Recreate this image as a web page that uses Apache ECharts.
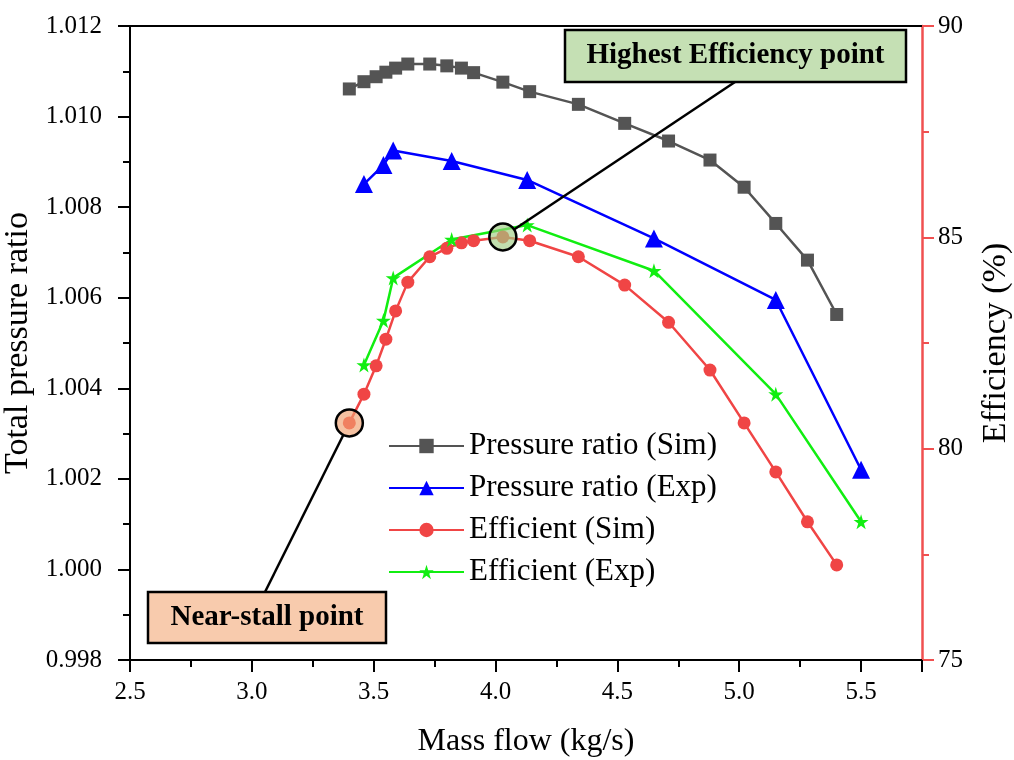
<!DOCTYPE html>
<html><head><meta charset="utf-8">
<script src="https://cdn.jsdelivr.net/npm/echarts@6/dist/echarts.min.js"></script>
<style>html,body{margin:0;padding:0;background:#fff}#c{width:1014px;height:760px}</style>
</head><body><div id="c"></div>
<script>
// ---- data ----
const simFlow = [3.40,3.46,3.51,3.55,3.59,3.64,3.73,3.80,3.86,3.91,4.03,4.14,4.34,4.53,4.71,4.88,5.02,5.15,5.28,5.40];
const prSim   = [1.01061,1.01077,1.01088,1.01098,1.01107,1.01116,1.01116,1.01112,1.01107,1.01097,1.01076,1.01055,1.01027,1.00985,1.00946,1.00904,1.00844,1.00764,1.00683,1.00563];
const effSim  = [80.61,81.29,81.96,82.59,83.26,83.94,84.54,84.74,84.87,84.92,85.01,84.92,84.54,83.87,82.99,81.86,80.61,79.45,78.27,77.25];
const expFlow = [3.46,3.54,3.58,3.82,4.13,4.65,5.15,5.50];
const prExp   = [1.00851,1.00893,1.00925,1.00902,1.00860,1.00731,1.00595,1.00220];
const effExp  = [81.98,83.03,84.04,84.95,85.29,84.21,81.29,78.27];
const seriesNames = ['Pressure ratio (Sim)','Pressure ratio (Exp)','Efficient (Sim)','Efficient (Exp)'];
const nearStallIdx = 0;
const highestIdx = 10;
const noteHighest = 'Highest Efficiency point';
const noteStall = 'Near-stall point';

const FONT = '"Liberation Serif","Times New Roman",serif';
const STAR = 'path://M50 0 L61.17 34.63 L97.55 34.55 L68.07 55.87 L79.39 90.45 L50 69 L20.61 90.45 L31.93 55.87 L2.45 34.55 L38.83 34.63 Z';
const pair = (xs, ys) => xs.map((x, i) => [x, ys[i]]);

const chart = echarts.init(document.getElementById('c'));
const axisTxt = {color:'#000', fontFamily:FONT, fontSize:25};
chart.setOption({
  animation:false,
  backgroundColor:'#fff',
  grid:{left:130, right:92, top:26, bottom:100, containLabel:false, outerBoundsMode:'none'},
  legend:{
    orient:'vertical', left:383, top:425, itemWidth:75, itemHeight:18, itemGap:10,
    textStyle:{color:'#000', fontFamily:FONT, fontSize:31, lineHeight:32},
    data:seriesNames
  },
  xAxis:[{
    type:'value', min:2.5, max:5.75, interval:0.5, position:'bottom',
    name:'Mass flow (kg/s)', nameLocation:'middle', nameGap:66,
    nameTextStyle:{color:'#000', fontFamily:FONT, fontSize:32},
    axisLine:{show:true, lineStyle:{color:'#000', width:2}},
    axisTick:{show:true, length:12, lineStyle:{color:'#000', width:2}},
    minorTick:{show:true, splitNumber:2, length:7, lineStyle:{color:'#000', width:2}},
    splitLine:{show:false},
    axisLabel:{...axisTxt, margin:20, formatter:v => (Math.abs(v*2 - Math.round(v*2)) < 1e-6 ? v.toFixed(1) : '')}
  },{
    type:'value', min:2.5, max:5.75, position:'top',
    axisLine:{show:true, lineStyle:{color:'#000', width:2}},
    axisTick:{show:false}, axisLabel:{show:false}, splitLine:{show:false}
  }],
  yAxis:[{
    type:'value', min:0.998, max:1.012, interval:0.002, position:'left',
    name:'Total pressure ratio', nameLocation:'middle', nameGap:84, nameRotate:90,
    nameTextStyle:{color:'#000', fontFamily:FONT, fontSize:34},
    axisLine:{show:true, lineStyle:{color:'#000', width:2}},
    axisTick:{show:true, length:12, lineStyle:{color:'#000', width:2}},
    minorTick:{show:true, splitNumber:2, length:7, lineStyle:{color:'#000', width:2}},
    splitLine:{show:false},
    axisLabel:{...axisTxt, margin:28, formatter:v => v.toFixed(3)}
  },{
    type:'value', min:75, max:90, interval:5, position:'right',
    name:'Efficiency (%)', nameLocation:'middle', nameGap:57, nameRotate:90,
    nameTextStyle:{color:'#000', fontFamily:FONT, fontSize:34},
    axisLine:{show:true, lineStyle:{color:'#f05050', width:2.5}},
    axisTick:{show:true, length:12, lineStyle:{color:'#f05050', width:2}},
    minorTick:{show:true, splitNumber:2, length:7, lineStyle:{color:'#f05050', width:2}},
    splitLine:{show:false},
    axisLabel:{...axisTxt, margin:16, formatter:v => String(Math.round(v))}
  }],
  series:[
    {name:seriesNames[0], type:'line', xAxisIndex:0, yAxisIndex:0, data:pair(simFlow, prSim),
     symbol:'rect', symbolSize:13, color:'#545454', lineStyle:{width:2.5, color:'#545454'}, itemStyle:{color:'#545454'}, z:3},
    {name:seriesNames[1], type:'line', xAxisIndex:0, yAxisIndex:0, data:pair(expFlow, prExp),
     symbol:'triangle', symbolSize:18, color:'#0000ff', lineStyle:{width:2.5, color:'#0000ff'}, itemStyle:{color:'#0000ff'}, z:3},
    {name:seriesNames[2], type:'line', xAxisIndex:0, yAxisIndex:1, data:pair(simFlow, effSim),
     symbol:'circle', symbolSize:13, color:'#f04545', lineStyle:{width:2.5, color:'#f04545'}, itemStyle:{color:'#f04545'}, z:3,
     markPoint:{
       symbol:'circle', symbolSize:27, label:{show:false}, silent:true, animation:false,
       data:[
         {coord:[simFlow[nearStallIdx], effSim[nearStallIdx]], itemStyle:{color:'rgba(240,160,110,0.65)', borderColor:'#000', borderWidth:2.5}},
         {coord:[simFlow[highestIdx], effSim[highestIdx]], itemStyle:{color:'rgba(160,205,130,0.65)', borderColor:'#000', borderWidth:2.5}}
       ]
     }},
    {name:seriesNames[3], type:'line', xAxisIndex:0, yAxisIndex:1, data:pair(expFlow, effExp),
     symbol:STAR, symbolSize:15, color:'#11ee11', lineStyle:{width:2.5, color:'#11ee11'}, itemStyle:{color:'#11ee11'}, z:3}
  ]
});

// annotation leader lines and boxes
function leader(idx, tx, ty){
  const p = chart.convertToPixel({seriesIndex:2}, [simFlow[idx], effSim[idx]]);
  const dx = tx - p[0], dy = ty - p[1], d = Math.hypot(dx, dy), r = 13.5;
  return {type:'line', z:10, shape:{x1:p[0]+dx/d*r, y1:p[1]+dy/d*r, x2:tx, y2:ty}, style:{stroke:'#000', lineWidth:2.5}};
}
function box(x, y, w, h, fill, txt){
  return {type:'group', z:11, children:[
    {type:'rect', shape:{x:x, y:y, width:w, height:h}, style:{fill:fill, stroke:'#000', lineWidth:2.5}},
    {type:'text', x:x+w/2, y:y+h/2, style:{text:txt, fill:'#000', font:'bold 29px '+FONT, align:'center', verticalAlign:'middle'}}
  ]};
}
chart.setOption({graphic:[
  leader(highestIdx, 735, 82),
  leader(nearStallIdx, 265, 592),
  box(565, 30, 341, 52, '#c5e0b4', noteHighest),
  box(148, 592, 238, 51, '#f8cbad', noteStall)
]});
</script></body></html>
